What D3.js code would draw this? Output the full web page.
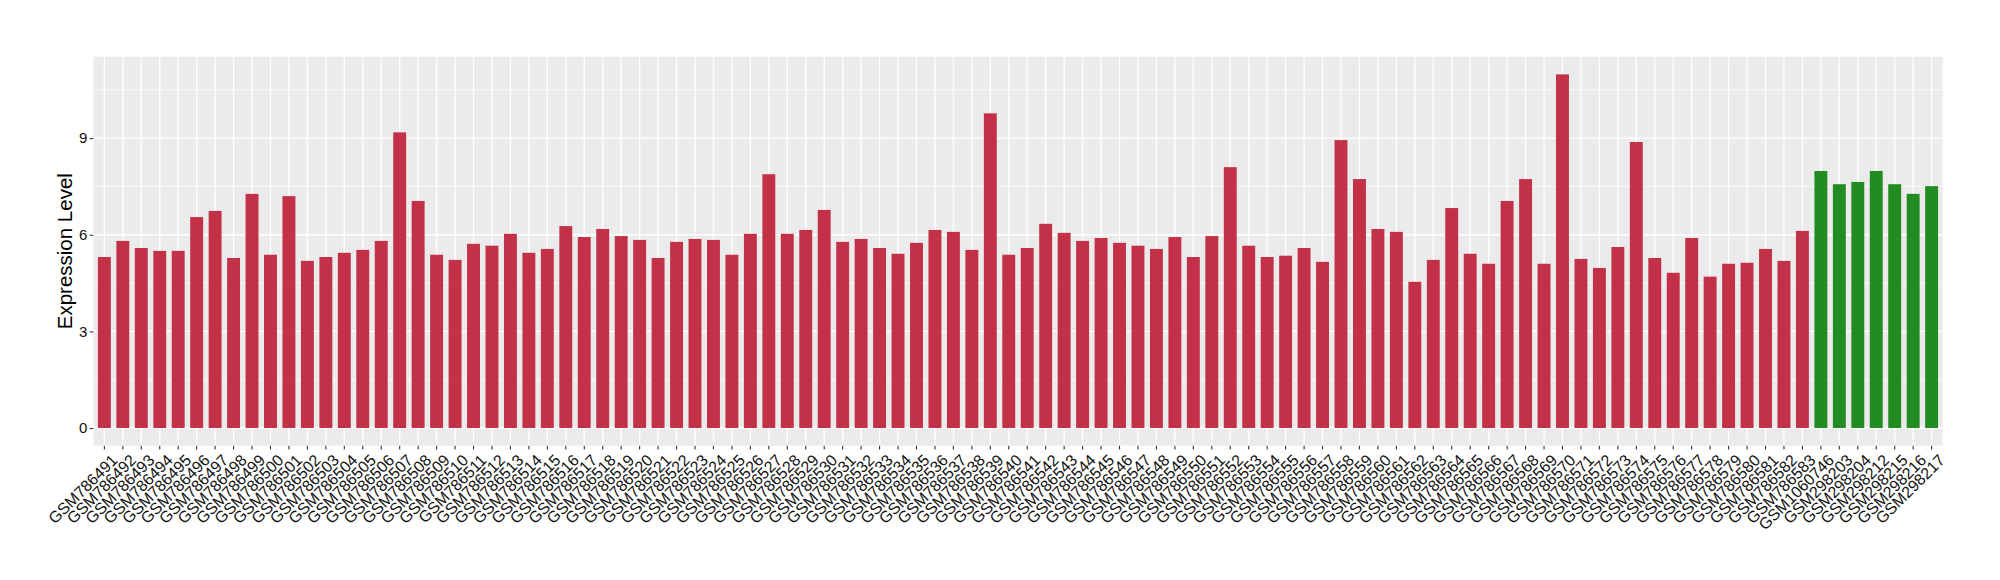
<!DOCTYPE html>
<html>
<head>
<meta charset="utf-8">
<script src="https://cdn.jsdelivr.net/npm/d3@7"></script>
<style>
  body { margin: 0; background: #fff; }
  text { font-family: "Liberation Sans", Arial, sans-serif; }
</style>
</head>
<body>
<script>
const samples = [
  "GSM786491", "GSM786492", "GSM786493", "GSM786494", "GSM786495", "GSM786496", "GSM786497", "GSM786498", "GSM786499", "GSM786500",
  "GSM786501", "GSM786502", "GSM786503", "GSM786504", "GSM786505", "GSM786506", "GSM786507", "GSM786508", "GSM786509", "GSM786510",
  "GSM786511", "GSM786512", "GSM786513", "GSM786514", "GSM786515", "GSM786516", "GSM786517", "GSM786518", "GSM786519", "GSM786520",
  "GSM786521", "GSM786522", "GSM786523", "GSM786524", "GSM786525", "GSM786526", "GSM786527", "GSM786528", "GSM786529", "GSM786530",
  "GSM786531", "GSM786532", "GSM786533", "GSM786534", "GSM786535", "GSM786536", "GSM786537", "GSM786538", "GSM786539", "GSM786540",
  "GSM786541", "GSM786542", "GSM786543", "GSM786544", "GSM786545", "GSM786546", "GSM786547", "GSM786548", "GSM786549", "GSM786550",
  "GSM786551", "GSM786552", "GSM786553", "GSM786554", "GSM786555", "GSM786556", "GSM786557", "GSM786558", "GSM786559", "GSM786560",
  "GSM786561", "GSM786562", "GSM786563", "GSM786564", "GSM786565", "GSM786566", "GSM786567", "GSM786568", "GSM786569", "GSM786570",
  "GSM786571", "GSM786572", "GSM786573", "GSM786574", "GSM786575", "GSM786576", "GSM786577", "GSM786578", "GSM786579", "GSM786580",
  "GSM786581", "GSM786582", "GSM786583", "GSM1060746", "GSM298203", "GSM298204", "GSM298212", "GSM298215", "GSM298216", "GSM298217"
];

const values = [
  5.31, 5.81, 5.59, 5.50, 5.50, 6.55, 6.74, 5.28, 7.27, 5.38,
  7.20, 5.19, 5.31, 5.44, 5.53, 5.81, 9.18, 7.05, 5.38, 5.22,
  5.72, 5.66, 6.03, 5.44, 5.56, 6.27, 5.93, 6.18, 5.96, 5.84,
  5.28, 5.78, 5.87, 5.84, 5.38, 6.03, 7.88, 6.03, 6.15, 6.77,
  5.78, 5.87, 5.59, 5.41, 5.75, 6.15, 6.09, 5.53, 9.77, 5.38,
  5.59, 6.34, 6.06, 5.81, 5.90, 5.75, 5.66, 5.56, 5.93, 5.31,
  5.96, 8.10, 5.66, 5.31, 5.35, 5.59, 5.16, 8.94, 7.73, 6.18,
  6.09, 4.54, 5.22, 6.83, 5.41, 5.10, 7.05, 7.73, 5.10, 10.98,
  5.25, 4.97, 5.62, 8.88, 5.28, 4.82, 5.90, 4.70, 5.10, 5.13,
  5.56, 5.19, 6.12, 7.98, 7.57, 7.64, 7.98, 7.57, 7.27, 7.51
];

// samples drawn in green
const normalSamples = ["GSM1060746", "GSM298203", "GSM298204", "GSM298212", "GSM298215", "GSM298216", "GSM298217"];

const yTicks = [0, 3, 6, 9];
const yMinor = [1.5, 4.5, 7.5, 10.5];

const width = 2000;
const height = 580;
const panel = { left: 93.3, right: 1942.7, top: 56.7, bottom: 445.7 };

const data = samples.map((s, i) => ({ sample: s, value: values[i] }));

const svg = d3
  .select("body")
  .append("svg")
  .attr("width", width)
  .attr("height", height);

const x = d3
  .scaleBand()
  .domain(samples)
  .range([panel.left, panel.right])
  .paddingInner(0.3)
  .paddingOuter(0.25);

const ymax = d3.max(values);
const y = d3
  .scaleLinear()
  .domain([-0.05 * ymax, ymax * 1.05])
  .range([panel.bottom, panel.top]);

// panel background + grid
svg
  .append("rect")
  .attr("x", panel.left)
  .attr("y", panel.top)
  .attr("width", panel.right - panel.left)
  .attr("height", panel.bottom - panel.top)
  .attr("fill", "#EBEBEB");

const grid = svg.append("g");
grid
  .selectAll(".minor")
  .data(yMinor)
  .enter()
  .append("line")
  .attr("x1", panel.left)
  .attr("x2", panel.right)
  .attr("y1", (d) => y(d))
  .attr("y2", (d) => y(d))
  .attr("stroke", "#fff")
  .attr("stroke-width", 0.7);
grid
  .selectAll(".major")
  .data(yTicks)
  .enter()
  .append("line")
  .attr("x1", panel.left)
  .attr("x2", panel.right)
  .attr("y1", (d) => y(d))
  .attr("y2", (d) => y(d))
  .attr("stroke", "#fff")
  .attr("stroke-width", 1.3);
grid
  .selectAll(".vmajor")
  .data(samples)
  .enter()
  .append("line")
  .attr("x1", (d) => x(d) + x.bandwidth() / 2)
  .attr("x2", (d) => x(d) + x.bandwidth() / 2)
  .attr("y1", panel.top)
  .attr("y2", panel.bottom)
  .attr("stroke", "#fff")
  .attr("stroke-width", 1.3);

// bars
svg
  .append("g")
  .selectAll("rect")
  .data(data)
  .enter()
  .append("rect")
  .attr("x", (d) => x(d.sample))
  .attr("width", x.bandwidth())
  .attr("y", (d) => y(d.value))
  .attr("height", (d) => y(0) - y(d.value))
  .attr("fill", (d) => (normalSamples.includes(d.sample) ? "#228B22" : "#C33149"));

// y axis
const yAxis = svg
  .append("g")
  .attr("transform", `translate(${panel.left},0)`)
  .call(d3.axisLeft(y).tickValues(yTicks).tickSize(3.7).tickPadding(2.3));
yAxis.select(".domain").remove();
yAxis.selectAll(".tick line").attr("stroke", "#333").attr("stroke-width", 1.1);
yAxis.selectAll(".tick text").attr("fill", "#111").attr("font-size", 15);

// x axis
const xAxis = svg
  .append("g")
  .attr("transform", `translate(0,${panel.bottom})`)
  .call(d3.axisBottom(x).tickSize(3.7).tickPadding(0));
xAxis.select(".domain").remove();
xAxis.selectAll(".tick line").attr("stroke", "#333").attr("stroke-width", 1.1);
xAxis
  .selectAll(".tick text")
  .attr("fill", "#111")
  .attr("font-size", 16)
  .attr("text-anchor", "end")
  .attr("dy", "0.72em")
  .attr("x", -1)
  .attr("y", 9.5)
  .attr("transform", "rotate(-45)");

// y title
svg
  .append("text")
  .attr("transform", `translate(72,${(panel.top + panel.bottom) / 2}) rotate(-90)`)
  .attr("text-anchor", "middle")
  .attr("font-size", 20.5)
  .attr("fill", "#000")
  .text("Expression Level");
</script>
</body>
</html>
